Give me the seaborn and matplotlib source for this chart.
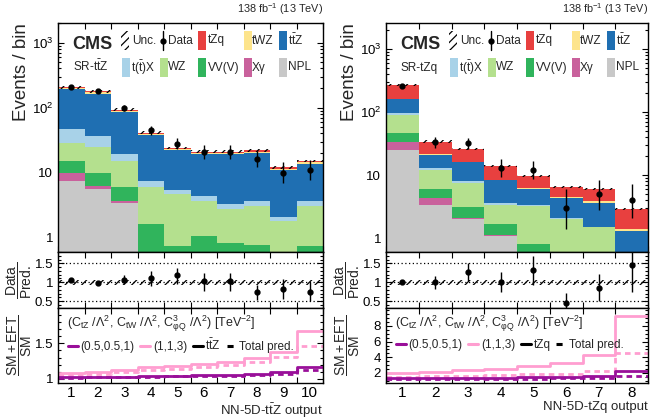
import numpy as np
import pandas as pd
import matplotlib
matplotlib.use('Agg')
import matplotlib.pyplot as plt
import seaborn as sns
from matplotlib.patches import Rectangle
from matplotlib.lines import Line2D
from matplotlib.ticker import (MultipleLocator, FixedLocator, FuncFormatter,
                               LogLocator, NullFormatter)

# ---- data: SR-ttZ (10 bins) ----
ttz_npl = [7.5, 5.5, 3.45, 0.3, 0.2, 0.2, 0.2, 0.15, 0.1, 0.15]
ttz_xg = [2.5, 0.8, 0.15, 0.05, 0.03, 0.03, 0.03, 0.02, 0.02, 0.02]
ttz_vv = [5.3, 3.7, 2.3, 1.29, 0.52, 0.84, 0.61, 0.61, 0.38, 0.58]
ttz_wz = [13.7, 15.0, 9.4, 4.26, 3.85, 2.53, 1.96, 2.32, 1.3, 2.35]
ttz_ttx = [17.0, 11.0, 4.3, 1.4, 0.7, 0.7, 0.5, 0.6, 0.3, 0.6]
ttz_ttz = [144.0, 128.0, 64.4, 30.7, 16.7, 14.7, 15.7, 16.3, 8.9, 10.0]
ttz_twz = [8.0, 7.0, 4.5, 1.6, 1.0, 1.0, 1.0, 1.0, 0.5, 0.7]
ttz_tzq = [7.0, 7.0, 4.5, 1.4, 1.0, 1.0, 1.0, 1.0, 0.5, 0.6]
ttz_data = [210, 178, 100, 45, 28, 21, 21, 16, 10, 11]
ttz_data_lo = [14.5, 13.3, 10.0, 6.7, 5.3, 4.6, 4.6, 4.0, 3.1, 3.3]
ttz_data_hi = [15.5, 14.3, 11.0, 7.7, 6.3, 5.6, 5.6, 5.1, 4.3, 4.4]
ttz_ratio = [1.05, 0.98, 1.07, 1.10, 1.18, 1.03, 1.03, 0.74, 0.83, 0.75]
ttz_ratio_lo = [0.05, 0.06, 0.12, 0.20, 0.23, 0.25, 0.25, 0.21, 0.26, 0.24]
ttz_ratio_hi = [0.05, 0.06, 0.11, 0.20, 0.21, 0.22, 0.22, 0.20, 0.26, 0.25]
ttz_eft1_sig = [1.02, 1.025, 1.03, 1.035, 1.045, 1.05, 1.055, 1.065, 1.09, 1.16]
ttz_eft1_tot = [1.015, 1.02, 1.025, 1.03, 1.035, 1.04, 1.045, 1.05, 1.07, 1.12]
ttz_eft2_sig = [1.08, 1.095, 1.13, 1.16, 1.18, 1.21, 1.24, 1.29, 1.38, 1.68]
ttz_eft2_tot = [1.05, 1.07, 1.095, 1.12, 1.14, 1.16, 1.19, 1.23, 1.31, 1.46]

# ---- data: SR-tZq (8 bins) ----
tzq_npl = [25.0, 3.3, 2.04, 1.09, 0.4, 0.2, 0.2, 0.1]
tzq_xg = [9.0, 0.96, 0.06, 0.03, 0.05, 0.02, 0.02, 0.01]
tzq_vv = [13.0, 1.84, 1.05, 0.54, 0.35, 0.28, 0.18, 0.09]
tzq_wz = [42.0, 5.8, 4.35, 1.74, 2.4, 1.5, 1.07, 0.3]
tzq_ttx = [8.0, 1.1, 0.5, 0.2, 0.1, 0.05, 0.03, 0.05]
tzq_ttz = [63.0, 7.5, 7.9, 4.6, 2.8, 2.35, 2.15, 0.75]
tzq_twz = [3.0, 0.8, 0.5, 0.3, 0.2, 0.1, 0.2, 0.1]
tzq_tzq = [104.0, 12.7, 9.6, 5.5, 3.3, 2.0, 2.15, 1.5]
tzq_data = [260, 33, 32, 13, 12, 3, 5, 4]
tzq_data_lo = [16.0, 5.7, 5.6, 3.6, 3.4, 1.6, 2.2, 1.9]
tzq_data_hi = [17.0, 6.8, 6.7, 4.7, 4.6, 2.9, 3.4, 3.2]
tzq_ratio = [1.0, 1.0, 1.28, 1.0, 1.33, 0.46, 0.84, 1.45]
tzq_ratio_lo = [0.04, 0.17, 0.25, 0.27, 0.39, 0.30, 0.34, 0.72]
tzq_ratio_hi = [0.04, 0.17, 0.22, 0.27, 0.37, 0.26, 0.39, 0.60]
tzq_eft1_sig = [1.3, 1.33, 1.37, 1.4, 1.45, 1.5, 1.55, 2.2]
tzq_eft1_tot = [1.15, 1.18, 1.2, 1.22, 1.25, 1.3, 1.35, 1.6]
tzq_eft2_sig = [2.0, 2.1, 2.35, 2.55, 2.9, 3.2, 4.3, 9.3]
tzq_eft2_tot = [1.5, 1.55, 1.65, 1.7, 1.8, 1.9, 2.25, 4.5]

procs = ['tZq', 'tWZ', 'ttZ', 'ttX', 'WZ', 'VV', 'Xg', 'NPL']  # top of stack first
labels = {'tZq': 'tZq', 'tWZ': 'tWZ', 'ttZ': r't$\bar{\mathrm{t}}$Z',
          'ttX': r't($\bar{\mathrm{t}}$)X', 'WZ': 'WZ', 'VV': 'VV(V)',
          'Xg': 'Xγ', 'NPL': 'NPL'}
colors = {'tZq': '#e8403f', 'tWZ': '#fde48c', 'ttZ': '#1f6fb2', 'ttX': '#a8d2e8',
          'WZ': '#b4e08e', 'VV': '#30b45c', 'Xg': '#c9619c', 'NPL': '#c8c8c8'}
purple = '#990f99'
pink = '#ff9ed0'

sns.set_style('ticks')
plt.rcParams['font.family'] = ['Liberation Sans', 'DejaVu Sans']
plt.rcParams['mathtext.fontset'] = 'custom'
plt.rcParams['mathtext.rm'] = 'Liberation Sans'
plt.rcParams['mathtext.it'] = 'Liberation Sans:italic'
plt.rcParams['mathtext.bf'] = 'Liberation Sans:bold'
plt.rcParams['hatch.linewidth'] = 0.9
plt.rcParams['axes.linewidth'] = 1.0

fig = plt.figure(figsize=(6.52, 4.2), dpi=100)

# legend layout (pixel offsets from the axes left edge, row centres in figure px)
leg_rows = [40.5, 67.5]
leg_entries = [
    (0, 'unc', 63, 74, 'Unc.'), (0, 'data', 105, 110, 'Data'),
    (0, 'tZq', 140, 150, 'tZq'), (0, 'tWZ', 186, 194, 'tWZ'), (0, 'ttZ', 221, 230, None),
    (1, 'ttX', 64, 73, None), (1, 'WZ', 102, 110, 'WZ'), (1, 'VV', 140, 150, 'VV(V)'),
    (1, 'Xg', 186, 194, 'Xγ'), (1, 'NPL', 221, 230, 'NPL'),
]


def style_axes(ax, edges):
    ax.set_xlim(edges[0], edges[-1])
    ax.set_xticks(edges)
    ax.set_xticklabels([])
    ax.set_xticks(edges[:-1] + 0.5, minor=True)
    ax.tick_params(axis='both', which='both', direction='in', top=True, right=True,
                   colors='black', labelsize=9.5, width=0.8)
    ax.tick_params(axis='both', which='major', length=4)
    ax.tick_params(axis='y', which='minor', length=2)
    ax.tick_params(axis='x', which='minor', length=0)
    for s in ax.spines.values():
        s.set_color('black')


def draw(x0, x1, comps, data, dlo, dhi, ratio, rlo, rhi, eft, ylim, eft_ylim,
         eft_ticks, eft_minor, region, sig_label, xlabel):
    wpx = x1 - x0
    fl = x0 / 652
    w = wpx / 652
    ax = fig.add_axes([fl, 1 - 252 / 420, w, 229 / 420])
    ax_r = fig.add_axes([fl, 1 - 308 / 420, w, 56 / 420])
    ax_e = fig.add_axes([fl, 1 - 383 / 420, w, 75 / 420])

    nb = len(data)
    centers = np.arange(1, nb + 1)
    edges = np.arange(0.5, nb + 1.0)
    bins = [float(e) for e in edges]

    # stacked histogram: draw cumulative sums from the top layer down
    for k, p in enumerate(procs):
        cum = np.sum([comps[q] for q in procs[k:]], axis=0)
        df = pd.DataFrame({'bin': centers.astype(float), 'val': cum})
        sns.histplot(data=df, x='bin', weights='val', bins=bins, element='bars',
                     color=colors[p], alpha=1, linewidth=0, ax=ax)
    total = np.sum([comps[p] for p in procs], axis=0)
    unc = 0.045
    ax.bar(centers, 2 * unc * total, bottom=total * (1 - unc), width=1,
           facecolor='none', edgecolor='black', hatch='////', linewidth=0)
    ax.errorbar(centers, data, yerr=[dlo, dhi], fmt='o', color='black',
                ms=3.5, lw=1, capsize=0)
    ax.set_yscale('log')
    ax.set_ylim(*ylim)
    style_axes(ax, edges)
    ax.yaxis.set_major_locator(LogLocator(base=10, numticks=10))
    ax.yaxis.set_minor_locator(LogLocator(base=10, subs=np.arange(2, 10), numticks=20))
    ax.yaxis.set_minor_formatter(NullFormatter())
    ax.yaxis.set_major_formatter(FuncFormatter(
        lambda v, _: {1: '1', 10: '10', 100: r'$10^2$', 1000: r'$10^3$'}.get(int(round(v)), '')))
    ax.set_xlabel('')
    ax.set_ylabel('Events / bin', fontsize=13.5, loc='top')
    ax.yaxis.set_label_coords(-0.105, 1.0)

    ax.text(0.053, 0.886, 'CMS', fontsize=13, fontweight='bold', transform=ax.transAxes,
            va='baseline', ha='left')
    ax.text(0.055, 0.79, region, fontsize=8.5, transform=ax.transAxes,
            va='baseline', ha='left')
    ax.text(1.0, 1.025, r'138 fb$^{-1}$ (13 TeV)', fontsize=7.8, transform=ax.transAxes,
            va='bottom', ha='right')

    # hand-placed legend, ROOT style
    for row, kind, hx, tx, lab in leg_entries:
        yc = (252 - leg_rows[row]) / 229
        hh = 19 / 229
        if kind == 'data':
            ax.plot([hx / wpx, hx / wpx], [yc - 0.5 * hh, yc + 0.5 * hh], color='black',
                    lw=1, transform=ax.transAxes, clip_on=False)
            ax.plot([hx / wpx], [yc], 'o', color='black', ms=3.5,
                    transform=ax.transAxes, clip_on=False)
        elif kind == 'unc':
            ax.add_patch(Rectangle((hx / wpx, yc - 0.5 * hh), 8 / wpx, hh,
                                   transform=ax.transAxes, facecolor='none',
                                   edgecolor='black', hatch='////', linewidth=0))
        else:
            ax.add_patch(Rectangle((hx / wpx, yc - 0.5 * hh), 8 / wpx, hh,
                                   transform=ax.transAxes, facecolor=colors[kind],
                                   edgecolor='none'))
        ax.text(tx / wpx, yc, lab if lab else labels[kind], fontsize=8.5,
                transform=ax.transAxes, va='center', ha='left')

    # ratio panel
    runc = 0.06
    ax_r.bar(centers, 2 * runc * np.ones(nb), bottom=1 - runc, width=1,
             facecolor='none', edgecolor='black', hatch='////', linewidth=0)
    for yv in (0.5, 1.0, 1.5):
        ax_r.axhline(yv, color='black', ls=(0, (1, 2)), lw=0.9)
    ax_r.errorbar(centers, ratio, yerr=[rlo, rhi], fmt='o', color='black',
                  ms=3.5, lw=1, capsize=0)
    ax_r.set_ylim(0.32, 1.8)
    style_axes(ax_r, edges)
    ax_r.yaxis.set_major_locator(FixedLocator([0.5, 1.0, 1.5]))
    ax_r.yaxis.set_minor_locator(MultipleLocator(0.1))
    ax_r.yaxis.set_major_formatter(FuncFormatter(lambda v, _: f'{v:g}'))
    ax_r.set_ylabel(r'$\dfrac{\mathrm{Data}}{\mathrm{Pred.}}$', fontsize=10)
    ax_r.yaxis.set_label_coords(-0.09, 0.5)

    # EFT panel
    e1s, e1t, e2s, e2t = eft
    for vals, col, ls in ((e2s, pink, '-'), (e2t, pink, (0, (2, 1.5))),
                          (e1s, purple, '-'), (e1t, purple, (0, (2, 1.5)))):
        sns.lineplot(x=edges, y=np.append(vals, vals[-1]), drawstyle='steps-post',
                     color=col, lw=2.0, linestyle=ls, ax=ax_e)
    ax_e.set_ylim(*eft_ylim)
    style_axes(ax_e, edges)
    ax_e.yaxis.set_major_locator(FixedLocator(eft_ticks))
    ax_e.yaxis.set_minor_locator(MultipleLocator(eft_minor))
    ax_e.yaxis.set_major_formatter(FuncFormatter(lambda v, _: f'{v:g}'))
    ax_e.set_xticklabels([str(c) for c in centers], minor=True, fontsize=11)
    ax_e.tick_params(axis='x', which='minor', pad=2)
    ax_e.set_ylabel(r'$\dfrac{\mathrm{SM+EFT}}{\mathrm{SM}}$', fontsize=10)
    ax_e.yaxis.set_label_coords(-0.09, 0.5)
    ax_e.set_xlabel(xlabel, fontsize=9.5, loc='right', labelpad=1)
    ax_e.text(0.035, 0.75,
              r'(C$_{\mathrm{tZ}}$ /Λ$^2$, C$_{\mathrm{tW}}$ /Λ$^2$, C$^{3}_{\mathrm{φQ}}$ /Λ$^2$) [TeV$^{-2}$]',
              fontsize=9, transform=ax_e.transAxes, va='baseline', ha='left')
    eh = [Line2D([], [], color=purple, lw=2.2), Line2D([], [], color=pink, lw=2.2),
          Line2D([], [], color='black', lw=2.2),
          Line2D([], [], color='black', lw=2.2, ls=(0, (2, 1.5)))]
    ax_e.legend(eh, ['(0.5,0.5,1)', '(1,1,3)', sig_label, 'Total pred.'], ncol=4,
                frameon=False, fontsize=8.5, loc='center left',
                bbox_to_anchor=(10 / wpx, (383 - 345) / 75),
                borderpad=0, borderaxespad=0, handlelength=0.85, handletextpad=0.2,
                columnspacing=0.5)


draw(58, 323,
     {'tZq': ttz_tzq, 'tWZ': ttz_twz, 'ttZ': ttz_ttz, 'ttX': ttz_ttx, 'WZ': ttz_wz,
      'VV': ttz_vv, 'Xg': ttz_xg, 'NPL': ttz_npl},
     ttz_data, ttz_data_lo, ttz_data_hi, ttz_ratio, ttz_ratio_lo, ttz_ratio_hi,
     (ttz_eft1_sig, ttz_eft1_tot, ttz_eft2_sig, ttz_eft2_tot),
     (0.6, 2000), (0.94, 2.0), [1.0, 1.5], 0.1, r'SR-t$\bar{\mathrm{t}}$Z',
     r't$\bar{\mathrm{t}}$Z', r'NN-5D-t$\bar{\mathrm{t}}$Z output')

draw(386, 648,
     {'tZq': tzq_tzq, 'tWZ': tzq_twz, 'ttZ': tzq_ttz, 'ttX': tzq_ttx, 'WZ': tzq_wz,
      'VV': tzq_vv, 'Xg': tzq_xg, 'NPL': tzq_npl},
     tzq_data, tzq_data_lo, tzq_data_hi, tzq_ratio, tzq_ratio_lo, tzq_ratio_hi,
     (tzq_eft1_sig, tzq_eft1_tot, tzq_eft2_sig, tzq_eft2_tot),
     (0.6, 2600), (0.7, 10.3), [2, 4, 6, 8], 0.5, 'SR-tZq', 'tZq', 'NN-5D-tZq output')

fig.savefig('out.png', dpi=100)
